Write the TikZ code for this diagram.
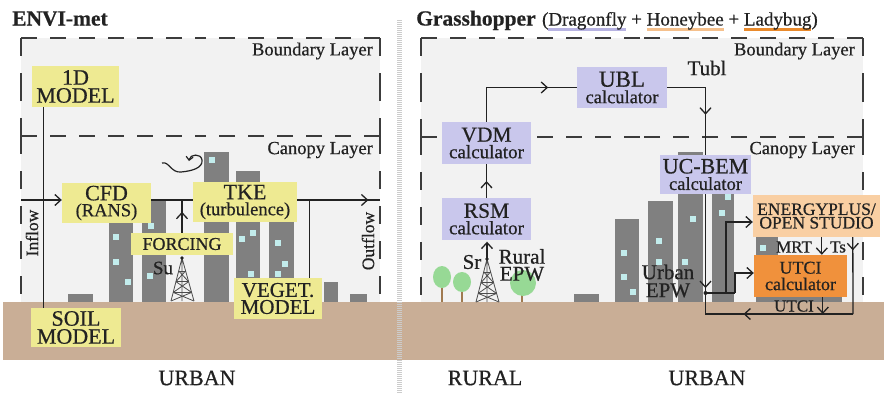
\documentclass[tikz,border=0pt]{standalone}
\usepackage{fontspec}
\setmainfont{Liberation Serif}[FakeBold=0.6]
\usetikzlibrary{arrows.meta,decorations.markings,calc}

\newcommand\fsz[2]{\fontsize{#1}{#2}\selectfont}
% word with a coloured bar underneath
\newcommand\ulword[2]{\setbox0\hbox{#2}\rlap{\color{#1}\rule[-5.5pt]{\wd0}{3pt}}\box0\relax}

\definecolor{panelgray}{HTML}{F2F2F2}
\definecolor{groundbrown}{HTML}{C9AE96}
\definecolor{bldgray}{HTML}{808080}
\definecolor{wincyan}{HTML}{C2ECEC}
\definecolor{boxyellow}{HTML}{EEEA92}
\definecolor{boxlav}{HTML}{C9C7EC}
\definecolor{boxpeach}{HTML}{F9CFA3}
\definecolor{boxorange}{HTML}{F0913C}
\definecolor{inkdark}{HTML}{222222}
\definecolor{dashgray}{HTML}{3C3C3C}
\definecolor{leafgreen}{HTML}{97D995}
\definecolor{trunkbrown}{HTML}{A07A50}
\definecolor{ulav}{HTML}{B7B3E2}
\definecolor{upeach}{HTML}{F5C08C}
\definecolor{uorange}{HTML}{E98A2C}

\tikzset{
  modbox/.style={inner sep=0pt, align=center, text=inkdark},
  ybox/.style={modbox, fill=boxyellow},
  lbox/.style={modbox, fill=boxlav},
  layh/.style={dashgray, line width=1.8pt, dash pattern=on 16pt off 13pt},
  layv/.style={dashgray, line width=1.8pt, dash pattern=on 18pt off 17pt},
  link/.style={inkdark, line width=1.3pt},
  arrowlink/.style={link, -{Straight Barb[length=6pt,width=11pt]}},
  chevat/.style={link, postaction={decorate},
    decoration={markings, mark=at position #1 with {\arrow{Straight Barb[length=6pt,width=11pt]}}}},
  bld/.style={fill=bldgray},
  win/.style={fill=wincyan},
  lbl/.style={text=inkdark, inner sep=0pt},
  mastline/.style={draw=black!70, line width=0.8pt},
  mast/.pic={
    \draw[mastline] (0,0) -- (-11,43) (0,0) -- (12,43) (0,0) -- (0,43);
    \foreach \a in {0.3,0.55,0.8}{\draw[mastline] ({-11*\a},{43*\a}) -- ({12*\a},{43*\a});}
    \foreach \a/\b in {0.3/0.55,0.55/0.8,0.8/1}{
      \draw[mastline] ({-11*\a},{43*\a}) -- ({12*\b},{43*\b}) ({12*\a},{43*\a}) -- ({-11*\b},{43*\b});}
    \fill[inkdark] (0,0) circle (1.8pt);
  }
}

% dashed layer frame, each side drawn from both corners so the corners stay solid
\newcommand\layerframe[4]{%
  \draw[layh] (#1,#2) -- ({(#1+#3)/2},#2);
  \draw[layh] (#3,#2) -- ({(#1+#3)/2},#2);
  \draw[layh] (#1,#4) -- ({(#1+#3)/2},#4);
  \draw[layh] (#3,#4) -- ({(#1+#3)/2},#4);
  \draw[layv] (#1,#2) -- (#1,{(#2+#4)/2});
  \draw[layv] (#1,#4) -- (#1,{(#2+#4)/2});
  \draw[layv] (#3,#2) -- (#3,{(#2+#4)/2});
  \draw[layv] (#3,#4) -- (#3,{(#2+#4)/2});
}

\begin{document}
\begin{tikzpicture}[x=1pt,y=-1pt]
\useasboundingbox (0,0) rectangle (884,394);

% layer interiors and ground
\fill[panelgray] (21,38) rectangle (380,302);
\fill[panelgray] (421,38) rectangle (863,302);
\fill[groundbrown] (3,302) rectangle (884,360);

% buildings
\foreach \a/\b/\t in {68/93/294, 109/133/205, 142/166/199, 204/229/152, 236/260/171,
    269/294/218, 324/338/282, 350/367/294,
    574/599/294, 615/639/219, 648/673/201, 678/703/152, 712/734/190, 756/778/237, 778/842/262}
  \fill[bld] (\a,\t) rectangle (\b,302);
\foreach \x/\y in {116/237, 116/262, 128/282, 151/226, 150/276, 212/160, 242/239, 253/233,
    251/274, 278/243, 285/264, 278/274,
    624/253, 624/277, 633/292, 659/241, 659/262, 693/219, 685/262, 728/197, 722/213, 763/248}
  \fill[win] (\x-2.8,\y-2.8) rectangle (\x+2.8,\y+2.8);

% rural trees
\draw[trunkbrown, line width=1.3pt] (442,287) -- (442,302);
\draw[trunkbrown, line width=1.3pt] (462,291) -- (462,302);
\draw[trunkbrown, line width=1.3pt] (522,294) -- (522,302);
\fill[leafgreen] (442,277) ellipse (9 and 11);
\fill[leafgreen] (462,282) ellipse (9 and 10);
\fill[leafgreen] (523,283) circle (13);

% masts
\pic at (182,258) {mast};
\pic at (487,259) {mast};

% layer frames
\layerframe{21}{38}{380}{136}
\layerframe{421}{38}{863}{137}
\draw[layv] (21,136) -- (21,302);
\draw[layv] (380,136) -- (380,302);
\draw[layv] (421,137) -- (421,302);
\draw[layv] (863,137) -- (863,302);

% divider
\draw[gray!40, line width=5pt, dash pattern=on 1pt off 1pt] (399.5,20) -- (399.5,394);

% titles
\node[lbl, anchor=base west, font=\bfseries\fsz{21.5}{21.5}] (envi) at (12,25.5) {ENVI-met};
\node[lbl, anchor=base west, font=\bfseries\fsz{21.5}{21.5}] (gh) at (416,25.5) {Grasshopper};
\node[lbl, anchor=base west, font=\fsz{19}{19}] (ghparts) at ($(gh.base east)+(6,0)$)
  {(\ulword{ulav}{Dragonfly} + \ulword{upeach}{Honeybee} + \ulword{uorange}{Ladybug})};

% layer labels
\node[lbl, anchor=east, font=\fsz{18.5}{18.5}] (blL) at (373,51) {Boundary Layer};
\node[lbl, anchor=east, font=\fsz{18.5}{18.5}] (clL) at (373,150) {Canopy Layer};
\node[lbl, anchor=east, font=\fsz{18.5}{18.5}] (blR) at (855,51) {Boundary Layer};
\node[lbl, anchor=east, font=\fsz{18.5}{18.5}] (clR) at (855,150) {Canopy Layer};

% ENVI-met modules
\node[ybox, minimum width=87pt, minimum height=41pt, font=\fsz{22}{18}] (m1d) at (75.5,86.5) {1D\\MODEL};
\node[ybox, minimum width=90pt, minimum height=39pt, font=\fsz{22}{18}] (soil) at (76,327.5) {SOIL\\MODEL};
\node[ybox, minimum width=89pt, minimum height=40pt, font=\fsz{22}{16}] (cfd) at (106.5,203) {CFD\\{\fsz{18.5}{16}(RANS)}};
\node[ybox, minimum width=104pt, minimum height=40pt, font=\fsz{22}{16}] (tke) at (245,202) {TKE\\{\fsz{18.5}{16}(turbulence)}};
\node[ybox, minimum width=102pt, minimum height=22pt, font=\fsz{18}{18}] (forcing) at (182,244) {FORCING};
\node[ybox, minimum width=88pt, minimum height=41pt, font=\fsz{21}{17}] (veget) at (278,298.5) {VEGET.\\MODEL};

% Grasshopper modules
\node[lbox, minimum width=90pt, minimum height=41pt, font=\fsz{23}{16.5}] (ubl) at (622,87.5) {UBL\\{\fsz{18.5}{16.5}calculator}};
\node[lbox, minimum width=89pt, minimum height=42pt, font=\fsz{21.5}{16.5}] (vdm) at (486.5,143) {VDM\\{\fsz{19}{16.5}calculator}};
\node[lbox, minimum width=91pt, minimum height=39pt, font=\fsz{22}{16.5}] (ucbem) at (705.5,174.5) {UC-BEM\\{\fsz{18.5}{16.5}calculator}};
\node[lbox, minimum width=89pt, minimum height=42pt, font=\fsz{21.5}{16.5}] (rsm) at (486.5,219) {RSM\\{\fsz{19}{16.5}calculator}};
\node[modbox, fill=boxpeach, minimum width=127pt, minimum height=42pt, font=\fsz{17.5}{13.5}] (ep) at (816.5,216) {ENERGYPLUS/\\OPEN STUDIO};
\node[modbox, fill=boxorange, minimum width=93pt, minimum height=42pt, font=\fsz{18}{16.5}] (utci) at (800.5,276) {UTCI\\calculator};

% ENVI-met links
\coordinate (inL) at (21,200);
\coordinate (outR) at (380,200);
\coordinate (sv) at ($(m1d.south west)+(12,0)$);
\coordinate (vv) at ($(veget.north west)+(76,0)$);
\draw[link] (sv) -- (sv |- soil.north);
\draw[arrowlink] (inL) -- (inL -| cfd.west);
\draw[link] (inL -| cfd.east) -- (inL -| tke.west);
\draw[chevat=0.86] (inL -| tke.east) -- (outR);
\draw[chevat=0.64] (forcing.north) -- (forcing.north |- inL);
\draw[link] (vv) -- (vv |- inL);

% swirl
\draw[link, line width=1.2pt, -{Straight Barb[length=3.5pt,width=7pt]}]
  (162,163) .. controls (169,161) and (171,173) .. (181,172)
  .. controls (192,171) and (203,168) .. (202,160)
  .. controls (201,153) and (190,154) .. (189,161);

% Grasshopper links
\coordinate (srtop) at (487,259);
\coordinate (dot) at (705.5,293);
\coordinate (b1) at (726,293);
\coordinate (b2) at (735,293);
\coordinate (mrt0) at ($(ep.south west)+(69,0)$);
\coordinate (ts0) at ($(ep.south west)+(100,0)$);
\coordinate (u0) at ($(utci.south west)+(69,0)$);
\coordinate (fbR) at (853,314);
\coordinate (fbL) at (705.5,314);
\draw[chevat=0.5] (rsm.north) -- (vdm.south);
\draw[chevat=0.77] (vdm.north) |- (ubl.west);
\draw[chevat=0.62] (ubl.east) -| (ucbem.north);
\draw[arrowlink, shorten >=1.5pt] (srtop) -- (srtop |- rsm.south);
\draw[chevat=0.95] (ucbem.south) -- (dot);
\draw[link] (dot) -- (b2);
\draw[arrowlink] (b1) |- ($(ep.west)+(0,6)$);
\draw[arrowlink] (b2) |- ($(utci.west)+(0,-3)$);
\draw[arrowlink] (mrt0) -- (mrt0 |- utci.north);
\draw[chevat=0.17] (ts0) -- (fbR);
\draw[chevat=0.65] (fbR) -- (fbL) -- (dot);
\draw[arrowlink] (u0) -- (u0 |- fbR);
\fill[inkdark] (dot) circle (2pt);

% small labels
\node[lbl, rotate=90, font=\fsz{17.5}{17.5}] (inflow) at (32,233) {Inflow};
\node[lbl, rotate=90, font=\fsz{17.5}{17.5}] (outflow) at (368,241) {Outflow};
\node[lbl, font=\fsz{19}{19}] (su) at (163,268) {Su};
\node[lbl, font=\fsz{21}{21}] (sr) at (472,262) {Sr};
\node[lbl, align=center, font=\fsz{21}{17}] (repw) at (522,265) {Rural\\EPW};
\node[lbl, align=center, font=\fsz{21}{18}] (uepw) at (668,281) {Urban\\EPW};
\node[lbl, font=\fsz{21}{21}] (tubl) at (707,68) {Tubl};
\node[lbl, font=\fsz{17}{17}] (mrt) at (794,247) {MRT};
\node[lbl, font=\fsz{17}{17}] (ts) at (838,247) {Ts};
\node[lbl, font=\fsz{17}{17}] (utcil) at (794,306) {UTCI};
\node[lbl, font=\fsz{22}{22}] (urbL) at (197,378) {URBAN};
\node[lbl, font=\fsz{22}{22}] (rur) at (485,378) {RURAL};
\node[lbl, font=\fsz{22}{22}] (urbR) at (707,378) {URBAN};
\end{tikzpicture}
\end{document}
